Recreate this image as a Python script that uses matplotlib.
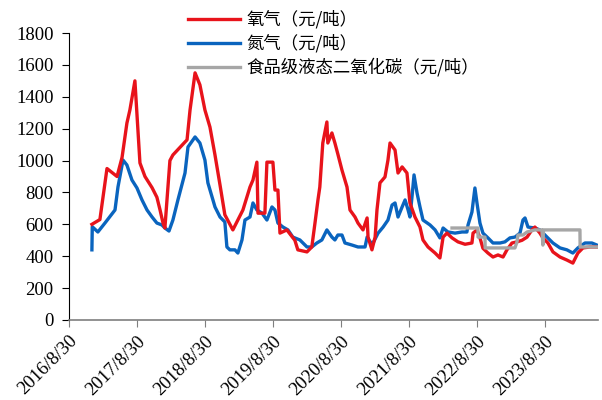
import pandas as pd
import matplotlib
matplotlib.use("Agg")
import matplotlib.pyplot as plt

# --- data ---
o2_dates = ["2016-12-31", "2017-02-12", "2017-03-22", "2017-05-15", "2017-06-11", "2017-07-07",
            "2017-07-23", "2017-08-19", "2017-09-15", "2017-10-12", "2017-11-19", "2017-12-15",
            "2018-01-01", "2018-01-17", "2018-01-27", "2018-02-23", "2018-03-11", "2018-05-26",
            "2018-06-11", "2018-07-08", "2018-08-03", "2018-08-30", "2018-09-26", "2018-10-23",
            "2018-11-19", "2018-12-15", "2019-01-27", "2019-03-22", "2019-04-29", "2019-05-15",
            "2019-06-05", "2019-06-11", "2019-07-18", "2019-07-29", "2019-08-30", "2019-09-10",
            "2019-09-26", "2019-10-07", "2019-11-13", "2019-12-26", "2020-01-11", "2020-02-29",
            "2020-03-26", "2020-04-12", "2020-04-28", "2020-05-08", "2020-05-24", "2020-06-15",
            "2020-06-20", "2020-07-12", "2020-07-28", "2020-08-13", "2020-09-04", "2020-10-01",
            "2020-10-17", "2020-11-13", "2020-11-29", "2020-12-26", "2021-01-17", "2021-01-22",
            "2021-02-12", "2021-03-01", "2021-03-11", "2021-03-27", "2021-04-23", "2021-05-09",
            "2021-05-20", "2021-06-16", "2021-07-02", "2021-07-24", "2021-08-19", "2021-09-04",
            "2021-10-01", "2021-10-28", "2021-11-13", "2021-12-10", "2022-01-17", "2022-02-12",
            "2022-03-01", "2022-03-22", "2022-04-18", "2022-05-20", "2022-06-27", "2022-08-03",
            "2022-08-09", "2022-08-30", "2022-09-15", "2022-10-01", "2022-10-28", "2022-11-24",
            "2022-12-21", "2023-01-17", "2023-02-07", "2023-03-06", "2023-04-02", "2023-04-29",
            "2023-05-26", "2023-06-21", "2023-07-07", "2023-08-03", "2023-08-19", "2023-09-15",
            "2023-10-12", "2023-11-19", "2023-12-26", "2024-01-27", "2024-02-23", "2024-03-21",
            "2024-04-28", "2024-06-04"]
o2_vals = [600, 630, 950, 900, 1020, 1235,
           1317, 1500, 985, 900, 830, 770,
           690, 608, 577, 1000, 1035, 1130,
           1317, 1550, 1475, 1317, 1210, 1035,
           847, 660, 565, 690, 834, 878,
           990, 670, 670, 990, 990, 815,
           815, 545, 565, 500, 440, 427,
           458, 608, 753, 834, 1110, 1242,
           1110, 1173, 1110, 1040, 940, 834,
           690, 646, 608, 565, 640, 520,
           440, 520, 690, 860, 897, 1003,
           1110, 1066, 922, 960, 922, 734,
           646, 583, 502, 458, 420, 389,
           520, 545, 515, 490, 475, 483,
           545, 565, 515, 450, 420, 395,
           408, 395, 440, 483, 490, 500,
           520, 565, 583, 545, 515, 483,
           427, 395, 376, 357, 420, 452,
           458, 458]

n2_dates = ["2016-12-31", "2017-01-02", "2017-02-01", "2017-03-11", "2017-05-04", "2017-05-20",
            "2017-06-16", "2017-07-07", "2017-08-03", "2017-08-30", "2017-09-26", "2017-10-23",
            "2017-11-19", "2017-12-15", "2018-01-11", "2018-01-27", "2018-02-18", "2018-03-11",
            "2018-04-07", "2018-05-15", "2018-05-31", "2018-07-08", "2018-08-03", "2018-08-30",
            "2018-09-15", "2018-10-12", "2018-10-23", "2018-11-19", "2018-12-15", "2018-12-26",
            "2019-01-11", "2019-02-07", "2019-02-23", "2019-03-17", "2019-04-02", "2019-04-29",
            "2019-05-15", "2019-06-05", "2019-07-02", "2019-07-29", "2019-08-25", "2019-09-10",
            "2019-09-26", "2019-10-23", "2019-11-19", "2019-12-15", "2020-01-22", "2020-02-29",
            "2020-03-26", "2020-04-22", "2020-05-19", "2020-06-15", "2020-07-12", "2020-07-28",
            "2020-08-13", "2020-09-04", "2020-09-20", "2020-10-28", "2020-11-29", "2021-01-06",
            "2021-01-17", "2021-02-02", "2021-02-18", "2021-03-17", "2021-04-13", "2021-05-09",
            "2021-05-31", "2021-06-16", "2021-07-02", "2021-07-24", "2021-08-09", "2021-08-25",
            "2021-09-04", "2021-09-15", "2021-09-26", "2021-10-12", "2021-10-28", "2021-11-13",
            "2021-12-21", "2022-01-17", "2022-02-12", "2022-03-01", "2022-03-27", "2022-05-04",
            "2022-06-11", "2022-07-07", "2022-07-13", "2022-08-03", "2022-08-09", "2022-08-19",
            "2022-08-30", "2022-09-15", "2022-10-01", "2022-10-28", "2022-11-24", "2023-01-01",
            "2023-01-27", "2023-02-23", "2023-03-22", "2023-04-18", "2023-05-04", "2023-05-15",
            "2023-05-31", "2023-07-07", "2023-08-03", "2023-09-10", "2023-10-12", "2023-11-19",
            "2023-12-26", "2024-01-27", "2024-02-23", "2024-04-01", "2024-05-08", "2024-06-04"]
n2_vals = [440, 585, 552, 608, 690, 834,
           1003, 972, 878, 828, 753, 690,
           646, 608, 596, 577, 558, 627,
           753, 922, 1085, 1148, 1110, 1003,
           860, 753, 709, 646, 615, 458,
           440, 440, 420, 502, 627, 646,
           734, 690, 671, 627, 709, 690,
           608, 583, 565, 520, 502, 458,
           458, 483, 502, 565, 520, 502,
           533, 533, 483, 470, 458, 458,
           520, 490, 483, 545, 583, 627,
           721, 734, 646, 709, 753, 690,
           646, 772, 910, 797, 709, 627,
           596, 565, 515, 577, 552, 545,
           552, 552, 596, 677, 734, 828,
           734, 608, 545, 515, 483, 483,
           490, 515, 520, 545, 627, 640,
           583, 577, 565, 520, 483, 452,
           440, 420, 452, 483, 483, 470]

co2_dates = ["2022-04-18", "2022-09-04", "2022-09-05", "2022-10-12", "2022-10-13", "2023-03-22",
             "2023-04-02", "2023-04-07", "2023-05-04", "2023-05-26", "2023-07-07", "2023-08-14",
             "2023-08-19", "2023-08-22", "2024-03-05", "2024-03-06", "2024-06-09"]
co2_vals = [577, 577, 520, 520, 452, 452,
            490, 533, 533, 552, 565, 565,
            470, 565, 565, 458, 458]

tick_dates = ["2016-08-30", "2017-08-30", "2018-08-30", "2019-08-30",
              "2020-08-30", "2021-08-30", "2022-08-30", "2023-08-30"]
tick_labels = ["2016/8/30", "2017/8/30", "2018/8/30", "2019/8/30",
               "2020/8/30", "2021/8/30", "2022/8/30", "2023/8/30"]

RED = "#E8131B"
BLUE = "#0A64BE"
GRAY = "#A6A6A6"

fig = plt.figure(figsize=(6.02, 4.0), dpi=100)
ax = fig.add_axes([69 / 602, 0.2, (598 - 69) / 602, 0.7175])

ax.plot(pd.to_datetime(o2_dates), o2_vals, color=RED, lw=2.4, label="氧气（元/吨）", zorder=3)
ax.plot(pd.to_datetime(n2_dates), n2_vals, color=BLUE, lw=2.4, label="氮气（元/吨）", zorder=2)
ax.plot(pd.to_datetime(co2_dates), co2_vals, color=GRAY, lw=2.4,
        label="食品级液态二氧化碳（元/吨）", zorder=4)

ax.set_ylim(0, 1800)
ax.set_yticks(range(0, 1801, 200))
ax.set_xlim(pd.Timestamp("2016-08-30"), pd.Timestamp("2024-06-10"))
ax.set_xticks(pd.to_datetime(tick_dates))
ax.set_xticklabels(tick_labels, rotation=45, ha="right", rotation_mode="anchor")

for lab in ax.get_xticklabels() + ax.get_yticklabels():
    lab.set_fontfamily("Liberation Serif")
    lab.set_fontsize(13.5)

ax.spines["top"].set_visible(False)
ax.spines["right"].set_visible(False)
ax.spines["left"].set_color("black")
ax.spines["bottom"].set_color("#7f7f7f")
ax.spines["bottom"].set_linewidth(1.2)
ax.tick_params(axis="y", direction="out", length=5, color="black", pad=6)
ax.tick_params(axis="x", direction="out", length=5, color="#7f7f7f", pad=4)

fig.legend(loc="upper left", bbox_to_anchor=(0.295, 1.0), frameon=False,
           prop={"family": ["Noto Sans CJK SC", "DejaVu Sans"], "size": 12.5},
           handlelength=3.0, handletextpad=0.35, labelspacing=0.3, borderaxespad=0.2)

fig.savefig("out.png", dpi=100)
